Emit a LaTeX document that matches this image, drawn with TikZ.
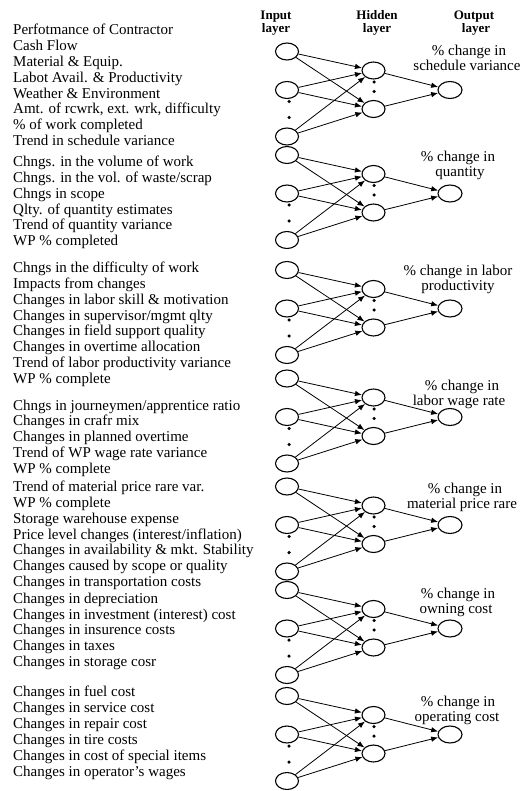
\documentclass[tikz,border=0pt]{standalone}
\usepackage{fontspec}
\setmainfont{Liberation Serif}[BoldFont={Liberation Serif Bold}]
\usetikzlibrary{shapes.geometric,arrows.meta}
\newcommand\mynet[2]{%
  \node[neuron] (i#1a) at (287,#2) {};
  \node[neuron] (i#1b) at (287,{#2+38.5}) {};
  \node[neuron] (i#1c) at (287,{#2+85}) {};
  \node[neuron] (h#1a) at (373.5,{#2+19}) {};
  \node[neuron] (h#1b) at (373.5,{#2+57.5}) {};
  \node[neuron,minimum width=24pt] (o#1) at (450,{#2+38.5}) {};
  \node[dotm] (di#1a) at (289,{#2+50}) {};
  \node[dotm] (di#1b) at (289,{#2+66}) {};
  \node[dotm] (dh#1a) at (374,{#2+30.5}) {};
  \node[dotm] (dh#1b) at (374,{#2+40}) {};
  \foreach \s in {a,b,c}{\foreach \t in {a,b}{\draw[conn] (i#1\s) -- (h#1\t);}}
  \draw[conn] (h#1a) -- (o#1);
  \draw[conn] (h#1b) -- (o#1);
}
\begin{document}
\begin{tikzpicture}[x=1pt,y=-1pt,
  neuron/.style={draw,ellipse,line width=1.1pt,minimum width=23pt,minimum height=17pt,inner sep=0pt},
  conn/.style={line width=0.8pt,-{Latex[length=7pt,width=5.5pt]}},
  lbl/.style={anchor=base west,inner sep=0pt,font=\fontsize{15}{16}\selectfont},
  outlbl/.style={anchor=base,inner sep=0pt,font=\fontsize{15}{16}\selectfont},
  hdr/.style={anchor=base,inner sep=0pt,font=\fontsize{13}{14}\selectfont\bfseries},
  dotm/.style={circle,fill,inner sep=0pt,minimum size=3.5pt}]
\useasboundingbox (0,0) rectangle (523,791);
% headers
\node[hdr] (hin1) at (276,20) {Input};
\node[hdr] (hin2) at (276,33) {layer};
\node[hdr] (hhid1) at (377,20) {Hidden};
\node[hdr] (hhid2) at (377,33) {layer};
\node[hdr] (hout1) at (474,20) {Output};
\node[hdr] (hout2) at (476,33) {layer};
% networks
\mynet{1}{51.5}
\mynet{2}{155}
\mynet{3}{270}
\mynet{4}{378.5}
\mynet{5}{486.5}
\mynet{6}{590}
\mynet{7}{696}
% output labels
\node[outlbl] (oa1) at (469,55.5) {\% change in};
\node[outlbl] (oa2) at (467,70.5) {schedule variance};
\node[outlbl] (ob1) at (458,162) {\% change in};
\node[outlbl] (ob2) at (460,176.5) {quantity};
\node[outlbl] (oc1) at (458,275) {\% change in labor};
\node[outlbl] (oc2) at (458,290) {productivity};
\node[outlbl] (od1) at (462,390) {\% change in};
\node[outlbl] (od2) at (459,405) {labor wage rate};
\node[outlbl] (oe1) at (465,493) {\% change in};
\node[outlbl] (oe2) at (462,508) {material price rare};
\node[outlbl] (of1) at (458,598) {\% change in};
\node[outlbl] (of2) at (456,613) {owning cost};
\node[outlbl] (og1) at (458,706.5) {\% change in};
\node[outlbl] (og2) at (457,721.5) {operating cost};
% input texts
\foreach \t [count=\k] in {{Perfotmance of Contractor},{Cash Flow},{Material \& Equip.},{Labot Avail. \& Productivity},{Weather \& Environment},{Amt. of rcwrk, ext. wrk, difficulty},{\% of work completed},{Trend in schedule variance}}
  \node[lbl] (ta\k) at (13,{35+(\k-1)*15.8}) {\t};
\foreach \t [count=\k] in {{Chngs. in the volume of work},{Chngs. in the vol. of waste/scrap},{Chngs in scope},{Qlty. of quantity estimates},{Trend of quantity variance},{WP \% completed}}
  \node[lbl] (tb\k) at (13,{166.7+(\k-1)*15.8}) {\t};
\foreach \t [count=\k] in {{Chngs in the difficulty of work},{Impacts from changes},{Changes in labor skill \& motivation},{Changes in supervisor/mgmt qlty},{Changes in field support quality},{Changes in overtime allocation},{Trend of labor productivity variance},{WP \% complete}}
  \node[lbl] (tc\k) at (13,{272.7+(\k-1)*15.8}) {\t};
\foreach \t [count=\k] in {{Chngs in journeymen/apprentice ratio},{Changes in crafr mix},{Changes in planned overtime},{Trend of WP wage rate variance},{WP \% complete}}
  \node[lbl] (td\k) at (13,{410+(\k-1)*15.8}) {\t};
\foreach \t [count=\k] in {{Trend of material price rare var.},{WP \% complete},{Storage warehouse expense},{Price level changes (interest/inflation)},{Changes in availability \& mkt. Stability},{Changes caused by scope or quality},{Changes in transportation costs}}
  \node[lbl] (te\k) at (13,{491.7+(\k-1)*15.8}) {\t};
\foreach \t [count=\k] in {{Changes in depreciation},{Changes in investment (interest) cost},{Changes in insurence costs},{Changes in taxes},{Changes in storage cosr}}
  \node[lbl] (tf\k) at (13,{603.3+(\k-1)*15.8}) {\t};
\foreach \t [count=\k] in {{Changes in fuel cost},{Changes in service cost},{Changes in repair cost},{Changes in tire costs},{Changes in cost of special items},{Changes in operator's wages}}
  \node[lbl] (tg\k) at (13,{696.7+(\k-1)*16}) {\t};
\end{tikzpicture}
\end{document}
